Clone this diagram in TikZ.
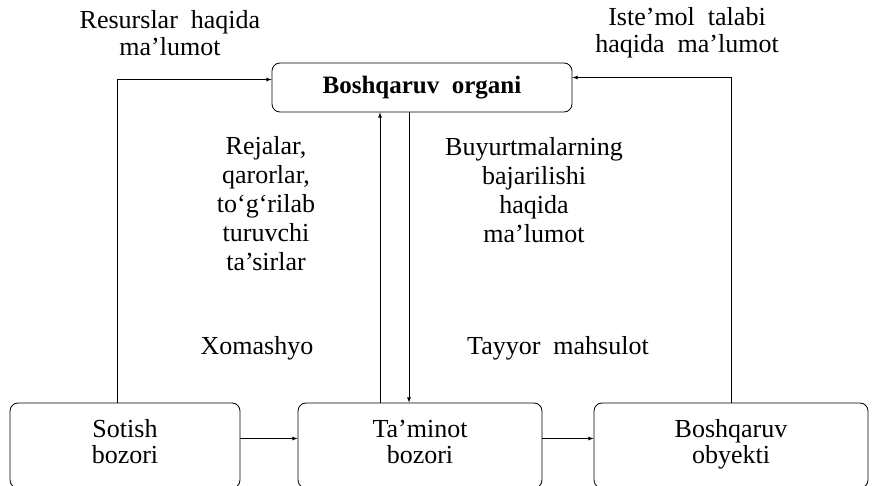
\documentclass[tikz,border=0pt]{standalone}
\usepackage{fontspec}
\setmainfont{Liberation Serif}
\usetikzlibrary{arrows}

\begin{document}
\begin{tikzpicture}[x=1pt,y=-1pt,>=latex]
\tikzstyle{box} = [draw, rounded corners=8pt, line width=0.8pt, align=center, inner sep=0pt, font=\fontsize{26}{26}\selectfont]
\tikzstyle{txt} = [align=center, inner sep=0pt, font=\fontsize{26}{27}\selectfont]
\tikzstyle{link} = [line width=0.8pt]
\useasboundingbox (0,0) rectangle (873,486);
\node[box, minimum width=300pt, minimum height=49pt, font=\bfseries\fontsize{25}{26}\selectfont](org) at (422,87.5){Boshqaruv\ \ organi};
\node[box, minimum width=230pt, minimum height=85pt](sot) at (125,445.5){\strut Sotish\\\strut bozori};
\node[box, minimum width=244pt, minimum height=85pt](tam) at (420,445.5){\strut Ta'minot\\\strut bozori};
\node[box, minimum width=274pt, minimum height=85pt](obj) at (731,445.5){\strut Boshqaruv\\\strut obyekti};
% yozuvlar
\node[txt](res) at (170,33){Resurslar\ \ haqida\\ma'lumot};
\node[txt](ist) at (687,33){Iste'mol\ \ talabi\\haqida\ \ ma'lumot};
\node[txt, font=\fontsize{26}{29}\selectfont](rej) at (266,204){Rejalar,\\qarorlar,\\to`g`rilab\\turuvchi\\ta'sirlar};
\node[txt, font=\fontsize{26}{29}\selectfont](buy) at (534,190){Buyurtmalarning\\bajarilishi\\haqida\\ma'lumot};
\node[txt](xom) at (257,348){Xomashyo};
\node[txt](tay) at (558,348){Tayyor\ \ mahsulot};
% strelkalar
\draw[link,->]([xshift=-8pt]sot.north) |- ([yshift=8pt]org.west);
\draw[link,->](obj.north) |- ([yshift=10pt]org.east);
\draw[link,->]([xshift=-40pt]tam.north) -- ([xshift=-42pt]org.south);
\draw[link,->]([xshift=-13pt]org.south) -- ([xshift=-11pt]tam.north);
\draw[link,->]([yshift=7pt]sot.east) -- ([yshift=7pt]tam.west);
\draw[link,->]([yshift=7pt]tam.east) -- ([yshift=7pt]obj.west);
\end{tikzpicture}
\end{document}
